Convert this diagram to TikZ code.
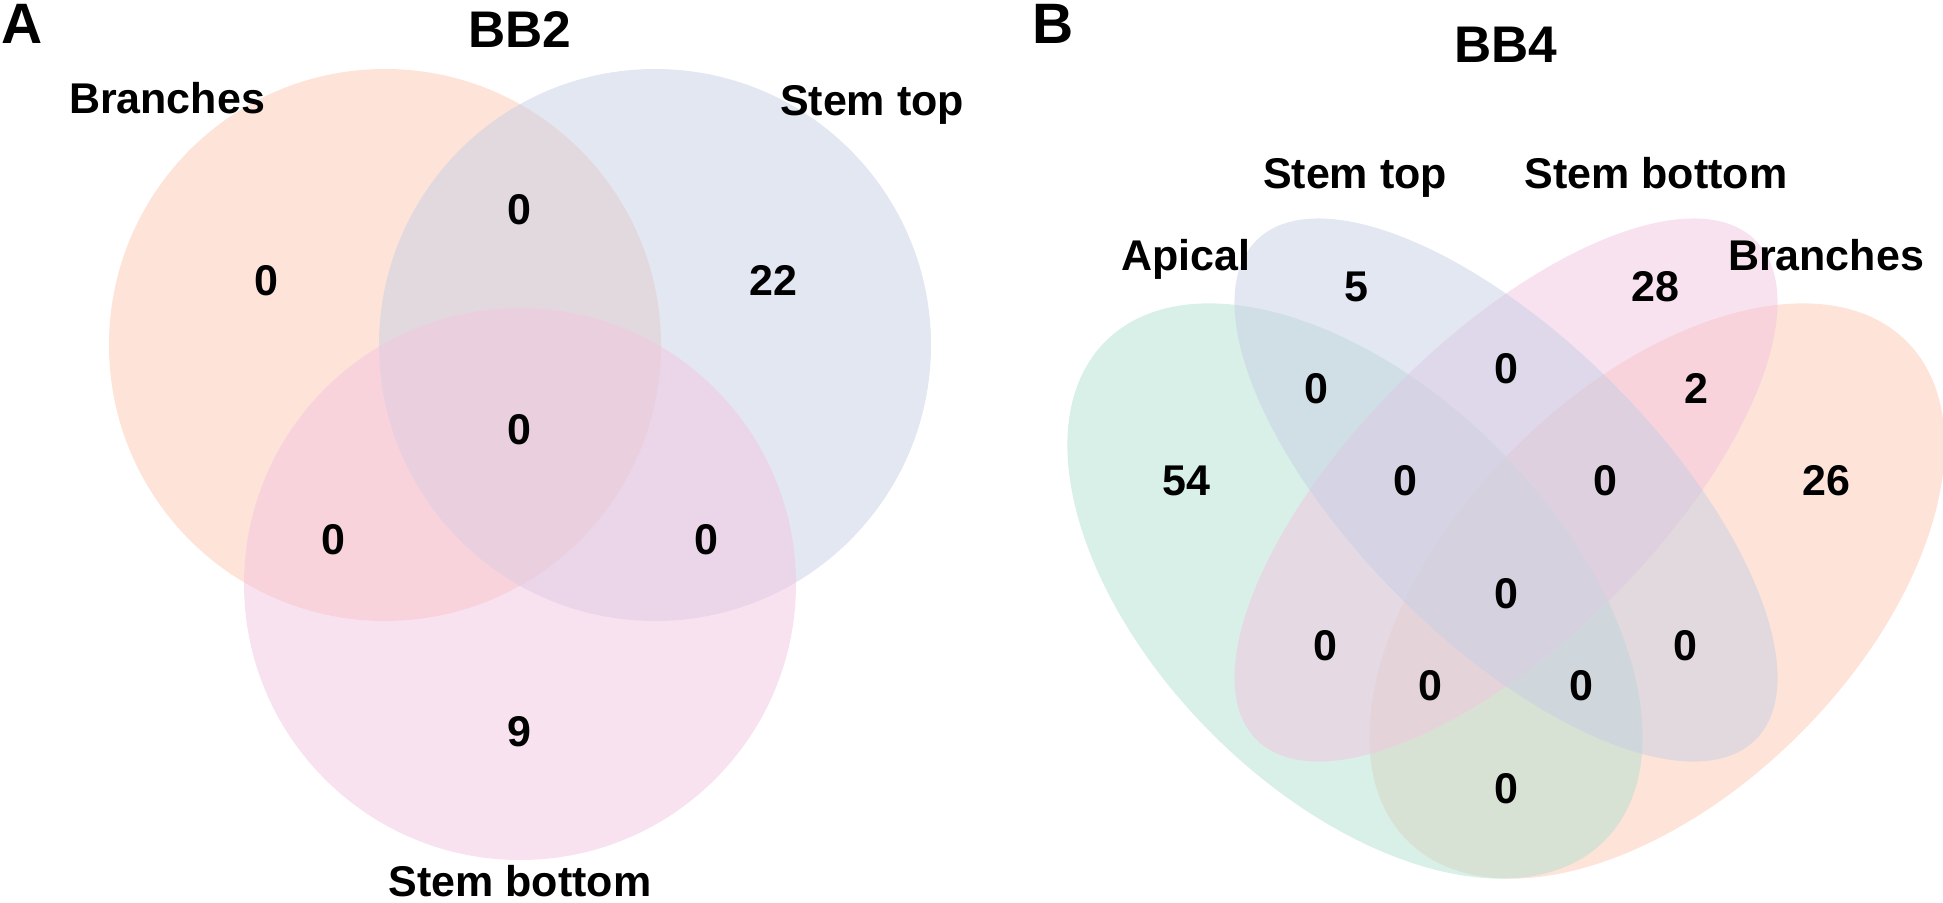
\documentclass[tikz,border=0pt]{standalone}
\usepackage{fontspec}
\setmainfont{Liberation Sans}
\definecolor{vgreen}{HTML}{B3E1D1}
\definecolor{vorange}{HTML}{FDC7B1}
\definecolor{vblue}{HTML}{C7CFE5}
\definecolor{vpink}{HTML}{F3C5E1}
\begin{document}
\begin{tikzpicture}[x=0.5pt,y=-0.5pt,
  vset/.style={fill opacity=0.5},
  lab/.style={font=\bfseries\fontsize{21.5}{21.5}\selectfont, inner sep=0pt, anchor=base},
  ttl/.style={font=\bfseries\fontsize{25.75}{26}\selectfont, inner sep=0pt, anchor=base},
  panel/.style={font=\bfseries\fontsize{28.5}{28.5}\selectfont, inner sep=0pt, anchor=base}]
\useasboundingbox (0,0) rectangle (1943,902);
% ---------- Panel A ----------
\fill[vorange, vset] (385,345) circle [radius=276];
\fill[vblue, vset] (655,345) circle [radius=276];
\fill[vpink, vset] (520,584) circle [radius=276];
\node[panel] (pA) at (22,43) {A};
\node[ttl] (tA) at (520,47) {BB2};
\node[lab] (lAbr) at (167,113) {Branches};
\node[lab] (lAst) at (872,115) {Stem top};
\node[lab] (lAsb) at (520,896) {Stem bottom};
\node[lab] (a1) at (266,295) {0};
\node[lab] (a2) at (519,224) {0};
\node[lab] (a3) at (773,295) {22};
\node[lab] (a4) at (519,444) {0};
\node[lab] (a5) at (333,554) {0};
\node[lab] (a6) at (706,554) {0};
\node[lab] (a7) at (519,746) {9};
% ---------- Panel B ----------
\fill[vorange, vset, rotate around={45:(1657,591)}] (1657,591) ellipse [x radius=353, y radius=202];
\fill[vgreen, vset, rotate around={-45:(1355,591)}] (1355,591) ellipse [x radius=353, y radius=202];
\fill[vpink, vset, rotate around={45:(1506,490)}] (1506,490) ellipse [x radius=353, y radius=151];
\fill[vblue, vset, rotate around={-45:(1506,490)}] (1506,490) ellipse [x radius=353, y radius=151];
\node[panel] (pB) at (1053,43) {B};
\node[ttl] (tB) at (1506,62) {BB4};
\node[lab] (lBst) at (1355,188) {Stem top};
\node[lab] (lBsb) at (1656,188) {Stem bottom};
\node[lab] (lBap) at (1186,270) {Apical};
\node[lab] (lBbr) at (1826,270) {Branches};
\node[lab] (b1) at (1356,301) {5};
\node[lab] (b2) at (1655,301) {28};
\node[lab] (b3) at (1316,403) {0};
\node[lab] (b4) at (1506,383) {0};
\node[lab] (b5) at (1696,403) {2};
\node[lab] (b6) at (1186,495) {54};
\node[lab] (b7) at (1405,495) {0};
\node[lab] (b8) at (1605,495) {0};
\node[lab] (b9) at (1826,495) {26};
\node[lab] (b10) at (1506,608) {0};
\node[lab] (b11) at (1325,660) {0};
\node[lab] (b12) at (1685,660) {0};
\node[lab] (b13) at (1430,700) {0};
\node[lab] (b14) at (1581,700) {0};
\node[lab] (b15) at (1506,803) {0};
\end{tikzpicture}
\end{document}
